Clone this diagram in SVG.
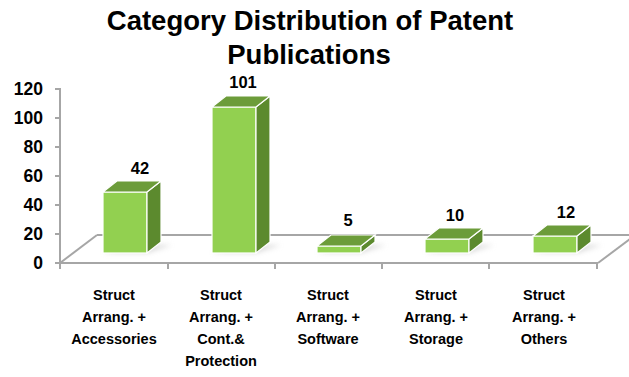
<svg xmlns="http://www.w3.org/2000/svg" width="629" height="377" viewBox="0 0 629 377">
<style>
.t{font-family:"Liberation Sans",Arial,sans-serif;font-weight:bold;fill:#000}
.title{font-size:27.5px;text-anchor:middle}
.ax{font-size:17.5px;text-anchor:end}
.val{font-size:16.5px;text-anchor:middle}
.cat{font-size:14.5px;text-anchor:middle}
.axis{stroke:#a6a6a6;stroke-width:2;fill:none}
.front{fill:#92d050;stroke:#fff;stroke-width:1.2}
.side{fill:#5c8a2e;stroke:#fff;stroke-width:1.2}
.top{fill:#6c9c3a;stroke:#fff;stroke-width:1.2}
.shadow{fill:#bfbfbf;opacity:0.55;filter:url(#blur)}
</style>
<defs>
<filter id="blur" x="-30%" y="-100%" width="160%" height="300%"><feGaussianBlur stdDeviation="2.5"/></filter>
</defs>
<rect width="629" height="377" fill="#fff"/>
<g id="title">
<text class="t title" x="310" y="30">Category Distribution of Patent</text>
<text class="t title" x="309" y="64">Publications</text>
</g>
<g id="floor">
<polygon points="60,263 97,235 635,235 598,263" fill="#fff"/>
<polyline class="axis" points="97,235 635,235"/>
<polyline class="axis" points="60,263 97,235"/>
<polyline class="axis" points="598,263 630,239"/>
</g>
<g id="axes">
<line class="axis" x1="60" y1="88" x2="60" y2="264"/>
<line class="axis" x1="60" y1="263" x2="598" y2="263"/>
<g stroke="#a6a6a6" stroke-width="2">
<line x1="55" y1="89" x2="60" y2="89"/>
<line x1="55" y1="118" x2="60" y2="118"/>
<line x1="55" y1="147" x2="60" y2="147"/>
<line x1="55" y1="176" x2="60" y2="176"/>
<line x1="55" y1="205" x2="60" y2="205"/>
<line x1="55" y1="234" x2="60" y2="234"/>
<line x1="55" y1="263" x2="60" y2="263"/>
<line x1="60" y1="263" x2="60" y2="269"/>
<line x1="168" y1="263" x2="168" y2="269"/>
<line x1="275" y1="263" x2="275" y2="269"/>
<line x1="382" y1="263" x2="382" y2="269"/>
<line x1="489" y1="263" x2="489" y2="269"/>
<line x1="597" y1="263" x2="597" y2="269"/>
</g>
<text class="t ax" x="43" y="95">120</text>
<text class="t ax" x="43" y="124">100</text>
<text class="t ax" x="43" y="153">80</text>
<text class="t ax" x="43" y="182">60</text>
<text class="t ax" x="43" y="211">40</text>
<text class="t ax" x="43" y="240">20</text>
<text class="t ax" x="43" y="269">0</text>
</g>
<g id="bar-accessories">
<polygon class="shadow" points="103,253 147,253 172,245 128,245"/>
<rect class="front" x="103" y="192" width="44" height="61"/>
<polygon class="side" points="147,253 161,242 161,181 147,192"/>
<polygon class="top" points="103,192 117,181 161,181 147,192"/>
<text class="t val" x="140" y="174">42</text>
</g>
<g id="bar-protection">
<polygon class="shadow" points="212,253 256,253 281,245 237,245"/>
<rect class="front" x="212" y="107" width="44" height="146"/>
<polygon class="side" points="256,253 270,242 270,96 256,107"/>
<polygon class="top" points="212,107 226,96 270,96 256,107"/>
<text class="t val" x="243" y="88">101</text>
</g>
<g id="bar-software">
<polygon class="shadow" points="317,253 361,253 386,245 342,245"/>
<rect class="front" x="317" y="246" width="44" height="7"/>
<polygon class="side" points="361,253 375,242 375,235 361,246"/>
<polygon class="top" points="317,246 331,235 375,235 361,246"/>
<text class="t val" x="348" y="226">5</text>
</g>
<g id="bar-storage">
<polygon class="shadow" points="425,253 469,253 494,245 450,245"/>
<rect class="front" x="425" y="239" width="44" height="14"/>
<polygon class="side" points="469,253 483,242 483,228 469,239"/>
<polygon class="top" points="425,239 439,228 483,228 469,239"/>
<text class="t val" x="455" y="221">10</text>
</g>
<g id="bar-others">
<polygon class="shadow" points="533,253 577,253 602,245 558,245"/>
<rect class="front" x="533" y="236" width="44" height="17"/>
<polygon class="side" points="577,253 591,242 591,225 577,236"/>
<polygon class="top" points="533,236 547,225 591,225 577,236"/>
<text class="t val" x="566" y="218">12</text>
</g>
<g id="connectors"></g>
<g id="categories">
<text class="t cat" x="114" y="300">Struct</text>
<text class="t cat" x="114" y="322">Arrang. +</text>
<text class="t cat" x="114" y="344">Accessories</text>
<text class="t cat" x="221" y="300">Struct</text>
<text class="t cat" x="221" y="322">Arrang. +</text>
<text class="t cat" x="221" y="344">Cont.&amp;</text>
<text class="t cat" x="221" y="366">Protection</text>
<text class="t cat" x="328" y="300">Struct</text>
<text class="t cat" x="328" y="322">Arrang. +</text>
<text class="t cat" x="328" y="344">Software</text>
<text class="t cat" x="436" y="300">Struct</text>
<text class="t cat" x="436" y="322">Arrang. +</text>
<text class="t cat" x="436" y="344">Storage</text>
<text class="t cat" x="544" y="300">Struct</text>
<text class="t cat" x="544" y="322">Arrang. +</text>
<text class="t cat" x="544" y="344">Others</text>
</g>
</svg>
